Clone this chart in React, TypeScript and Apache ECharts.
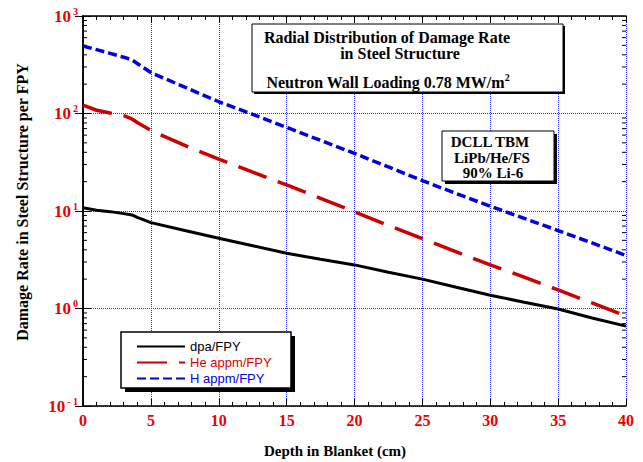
import React, { useEffect, useRef } from "react";
import * as echarts from "echarts";

// Depth in blanket (cm)
const depth = [0, 1, 2, 3, 3.6, 4, 5, 7.5, 10, 12.5, 15, 17.5, 20, 22.5, 25, 27.5, 30, 32.5, 35, 37.5, 40];
// dpa/FPY
const dpaFPY = [10.8, 10.2, 9.85, 9.4, 9.1, 8.6, 7.6, 6.3, 5.25, 4.4, 3.68, 3.2, 2.8, 2.35, 2.0, 1.65, 1.37, 1.16, 0.99, 0.8, 0.66];
// He appm/FPY
const heAppmFPY = [122, 108, 101, 95, 88, 81, 67, 47, 34, 25, 18.5, 13.5, 9.8, 7.1, 5.2, 3.8, 2.8, 2.1, 1.55, 1.14, 0.84];
// H appm/FPY
const hAppmFPY = [492, 452, 414, 378, 355, 326, 263, 186, 132, 98, 72, 53, 39, 28.3, 20.5, 15.1, 11.2, 8.4, 6.3, 4.7, 3.5];

const seriesNames = ["dpa/FPY", "He appm/FPY", "H appm/FPY"];
const seriesColors = ["#000000", "#cc0000", "#0000e0"];
const legendTextColors = ["#000000", "#e00000", "#0000ee"];

// log-axis minor tick positions
const yMinorTicks = [
  0.2, 0.3, 0.4, 0.5, 0.6, 0.7, 0.8, 0.9,
  2, 3, 4, 5, 6, 7, 8, 9,
  20, 30, 40, 50, 60, 70, 80, 90,
  200, 300, 400, 500, 600, 700, 800, 900,
];

const SERIF = '"Liberation Serif", "Times New Roman", serif';
const SANS = '"Liberation Sans", Arial, sans-serif';
const LABEL_RED = "#ee0000";

export default function App() {
  const ref = useRef<HTMLDivElement>(null);

  useEffect(() => {
    if (!ref.current) return;
    const chart = echarts.init(ref.current, undefined, { renderer: "svg" });

    const axisLine = { show: true, lineStyle: { color: "#000", width: 1.5 } };
    const gridLine = { show: true, lineStyle: { color: "#2a2aff", type: "dotted" as const, width: 1 } };

    const boxText = (text: string, x: number, y: number, size = 16, extra: any = {}) => ({
      type: "text",
      z: 12,
      style: {
        text,
        x,
        y,
        fill: "#000",
        font: `bold ${size}px ${SERIF}`,
        align: "center",
        verticalAlign: "middle",
        ...extra,
      },
    });

    const option: any = {
      animation: false,
      grid: { left: 83, right: 17, top: 16, bottom: 56, containLabel: false },
      xAxis: [
        {
          type: "value",
          min: 0,
          max: 40,
          interval: 5,
          position: "bottom",
          axisLine,
          axisTick: { show: true, inside: true, length: 7, lineStyle: { color: "#000", width: 1 } },
          minorTick: { show: true, splitNumber: 5, length: 4, lineStyle: { color: "#000", width: 1 } },
          splitLine: gridLine,
          axisLabel: {
            color: LABEL_RED,
            fontFamily: SERIF,
            fontWeight: "bold",
            fontSize: 16,
            margin: 6,
          },
        },
        {
          type: "value",
          min: 0,
          max: 40,
          interval: 5,
          position: "top",
          axisLine,
          axisTick: { show: true, inside: true, length: 7, lineStyle: { color: "#000", width: 1 } },
          minorTick: { show: true, splitNumber: 5, length: 4, lineStyle: { color: "#000", width: 1 } },
          splitLine: { show: false },
          axisLabel: { show: false },
        },
      ],
      yAxis: [
        {
          type: "log",
          logBase: 10,
          min: 0.1,
          max: 1000,
          position: "left",
          axisLine,
          axisTick: { show: true, inside: true, length: 8, lineStyle: { color: "#000", width: 1 } },
          splitLine: gridLine,
          axisLabel: {
            margin: 5,
            formatter: (v: number) => {
              const e = Math.round(Math.log10(v));
              return `{b|10}{s|${e < 0 ? "- " + -e : e}}`;
            },
            rich: {
              b: { color: LABEL_RED, fontFamily: SERIF, fontWeight: "bold", fontSize: 17, lineHeight: 20 },
              s: {
                color: LABEL_RED,
                fontFamily: SERIF,
                fontWeight: "bold",
                fontSize: 10,
                lineHeight: 10,
                verticalAlign: "top",
                padding: [0, 0, 0, 2],
              },
            },
          },
        },
        {
          type: "log",
          logBase: 10,
          min: 0.1,
          max: 1000,
          position: "right",
          axisLine,
          axisTick: { show: true, inside: true, length: 8, lineStyle: { color: "#000", width: 1 } },
          splitLine: { show: false },
          axisLabel: { show: false },
        },
      ],
      legend: {
        show: true,
        orient: "vertical",
        left: 131,
        top: 335,
        itemWidth: 48,
        itemHeight: 14,
        itemGap: 3,
        z: 20,
        itemStyle: { opacity: 0 },
        textStyle: { fontFamily: SANS, fontSize: 13, color: "#000" },
        data: seriesNames.map((n, i) => ({ name: n, textStyle: { color: legendTextColors[i] } })),
      },
      graphic: [
        // title box
        { type: "rect", z: 10, shape: { x: 254, y: 26, width: 311, height: 68 }, style: { fill: "#000" } },
        { type: "rect", z: 11, shape: { x: 252, y: 24, width: 311, height: 68 }, style: { fill: "#fff", stroke: "#000", lineWidth: 1 } },
        boxText("Radial Distribution of Damage Rate", 387, 37),
        boxText("in Steel Structure", 400, 53),
        {
          type: "text",
          z: 12,
          style: {
            text: "{t|Neutron Wall Loading 0.78 MW/m}{s|2}",
            x: 388,
            y: 82,
            align: "center",
            verticalAlign: "middle",
            rich: {
              t: { font: `bold 16px ${SERIF}`, fill: "#000", lineHeight: 20 },
              s: { font: `bold 10px ${SERIF}`, fill: "#000", lineHeight: 10, verticalAlign: "top" },
            },
          },
        },
        // DCLL box
        { type: "rect", z: 10, shape: { x: 445, y: 134, width: 112, height: 50 }, style: { fill: "#000" } },
        { type: "rect", z: 11, shape: { x: 442, y: 131, width: 112, height: 50 }, style: { fill: "#fff", stroke: "#000", lineWidth: 1 } },
        boxText("DCLL TBM", 490, 142, 15),
        boxText("LiPb/He/FS", 492, 157.5, 15),
        boxText("90% Li-6", 493, 173, 15),
        // legend box
        { type: "rect", z: 10, shape: { x: 125, y: 336, width: 170, height: 56 }, style: { fill: "#000" } },
        { type: "rect", z: 11, shape: { x: 121, y: 332, width: 170, height: 56 }, style: { fill: "#fff", stroke: "#000", lineWidth: 1.5 } },
        // axis titles
        {
          type: "text",
          z: 12,
          x: 22,
          y: 202,
          rotation: Math.PI / 2,
          style: {
            text: "Damage Rate in Steel Structure per FPY",
            x: 0,
            y: 0,
            fill: "#000",
            font: `bold 16px ${SERIF}`,
            align: "center",
            verticalAlign: "middle",
          },
        },
        boxText("Depth in Blanket (cm)", 335, 451, 15),
      ],
      series: [
        {
          name: seriesNames[0],
          type: "line",
          xAxisIndex: 0,
          yAxisIndex: 0,
          symbol: "none",
          z: 5,
          data: depth.map((x, i) => [x, dpaFPY[i]]),
          lineStyle: { color: seriesColors[0], width: 3, type: "solid" },
          itemStyle: { color: seriesColors[0] },
        },
        {
          name: seriesNames[1],
          type: "line",
          xAxisIndex: 0,
          yAxisIndex: 0,
          symbol: "none",
          z: 5,
          data: depth.map((x, i) => [x, heAppmFPY[i]]),
          lineStyle: { color: seriesColors[1], width: 3.5, type: [30, 12] },
          itemStyle: { color: seriesColors[1] },
        },
        {
          name: seriesNames[2],
          type: "line",
          xAxisIndex: 0,
          yAxisIndex: 0,
          symbol: "none",
          z: 5,
          data: depth.map((x, i) => [x, hAppmFPY[i]]),
          lineStyle: { color: seriesColors[2], width: 3.5, type: [9, 4] },
          itemStyle: { color: seriesColors[2] },
        },
        {
          type: "custom",
          xAxisIndex: 0,
          yAxisIndex: 0,
          silent: true,
          clip: false,
          z: 4,
          data: yMinorTicks.map((v) => [0, v]),
          renderItem: (_p: any, api: any) => {
            const v = api.value(1);
            const l = api.coord([0, v]);
            const r = api.coord([40, v]);
            return {
              type: "group",
              children: [
                { type: "line", shape: { x1: l[0], y1: l[1], x2: l[0] + 4, y2: l[1] }, style: { stroke: "#000", lineWidth: 1 } },
                { type: "line", shape: { x1: r[0] - 4, y1: r[1], x2: r[0], y2: r[1] }, style: { stroke: "#000", lineWidth: 1 } },
              ],
            };
          },
        },
      ],
    };

    chart.setOption(option);
    return () => chart.dispose();
  }, []);

  return <div ref={ref} style={{ width: 643, height: 462, position: "absolute", left: 0, top: 0 }} />;
}
